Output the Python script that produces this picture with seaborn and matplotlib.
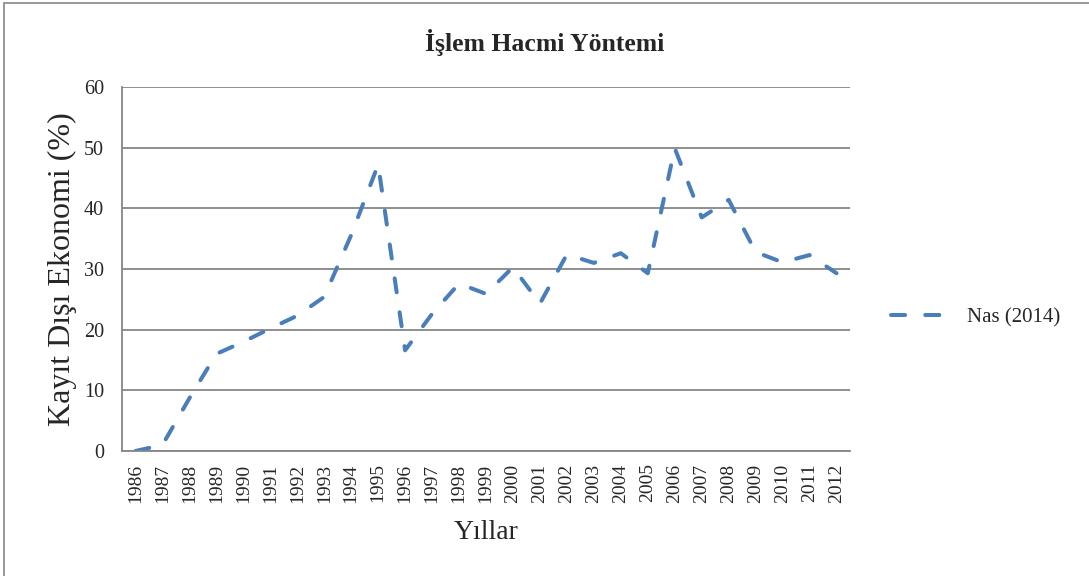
#importing packages
import matplotlib
matplotlib.use("Agg")
import matplotlib.pyplot as plt
import matplotlib.patches as patches
import seaborn as sns
import pandas as pd
import numpy as np

#data
years = list(range(1986, 2013))
nas2014 = [0.0, 1.0, 8.7, 16.0, 18.0, 20.2, 22.3, 25.4, 35.6, 47.2,
           16.6, 22.6, 27.6, 25.9, 30.3, 24.3, 32.4, 31.0, 32.6, 29.3,
           49.9, 38.5, 41.4, 32.8, 31.1, 32.3, 29.3]
seriesName = "Nas (2014)"
yTicks = [0, 10, 20, 30, 40, 50, 60]

df = pd.DataFrame({"Yıllar": years, "value": nas2014, "seri": seriesName})

sns.set_theme(style="white")
plt.rcParams['font.family'] = ['Liberation Serif', 'DejaVu Serif']
gridGray = "#868686"
lineBlue = "#4a7ebb"

fig = plt.figure(figsize=(10.89, 5.76), dpi=100)
ax = fig.add_axes([122/1089, 1-451/576, 728/1089, 364/576])

sns.lineplot(data=df, x="Yıllar", y="value", hue="seri", palette=[lineBlue],
             linewidth=2.9, ax=ax, legend=False)
line = ax.get_lines()[0]
line.set_linestyle((0, (3.5, 5.0)))
line.set_dash_capstyle("round")
line.set_label(seriesName)

#axes styling
ax.set_xlim(years[0]-0.5, years[-1]+0.5)
ax.set_ylim(0, 60)
ax.set_yticks(yTicks)
ax.set_xticks(years)
ax.set_xticklabels([str(y) for y in years], rotation=90, fontsize=14)
ax.set_xticks(np.arange(years[0]-0.5, years[-1]+1), minor=True)
ax.tick_params(axis="x", which="major", length=0, pad=9)
ax.tick_params(axis="x", which="minor", length=5, width=1.2, color=gridGray, direction="out")
ax.tick_params(axis="y", length=5, width=1.2, color=gridGray, direction="out", labelsize=14.5, pad=8)
ax.yaxis.grid(True, color=gridGray, linewidth=1.3)
ax.xaxis.grid(False)
for s in ["top", "right"]:
    ax.spines[s].set_visible(False)
for s in ["left", "bottom"]:
    ax.spines[s].set_color(gridGray)
    ax.spines[s].set_linewidth(1.3)
ax.set_ylabel("Kayıt Dışı Ekonomi (%)", fontsize=23, labelpad=5)
ax.set_xlabel("Yıllar", fontsize=20, labelpad=12)

fig.text(0.5, 1-42/576, "İşlem Hacmi Yöntemi", ha="center", va="center",
         fontsize=18.5, fontweight="bold")

fig.legend(handles=[line], loc="center left", bbox_to_anchor=(891/1089, 1-318/576),
           frameon=False, fontsize=15, handlelength=2.65, handletextpad=1.0,
           borderpad=0, borderaxespad=0)

#outer frame
fig.patches.append(patches.Rectangle((4/1089, -0.05), 1.2, 1-3/576+0.05,
                                     transform=fig.transFigure, fill=False,
                                     edgecolor=gridGray, linewidth=1.2))

plt.savefig("out.png", dpi=100)
plt.close()
